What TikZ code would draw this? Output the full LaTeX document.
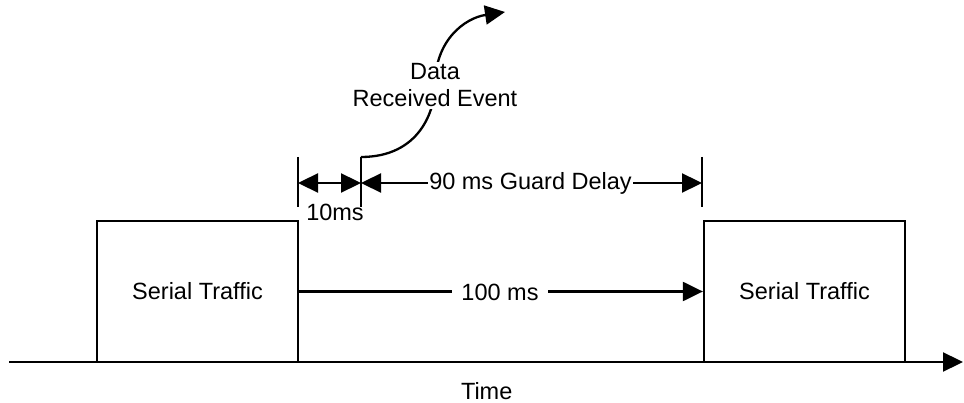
\documentclass[tikz,border=0pt]{standalone}
\usepackage{fontspec}
\setmainfont{Liberation Sans}
\usetikzlibrary{arrows.meta}
\begin{document}
\begin{tikzpicture}[x=1pt,y=-1pt,
  line width=2.3pt,
  lbl/.style={font=\fontsize{23.5}{27}\selectfont, inner sep=0pt},
  boxnode/.style={draw, rectangle, minimum width=201pt, minimum height=141pt, inner sep=0pt, font=\fontsize{23.5}{27}\selectfont},
  tip/.style={-{Triangle[length=20pt,width=19pt]}},
  dbl/.style={{Triangle[length=20pt,width=19pt]}-{Triangle[length=20pt,width=19pt]}}
]
\useasboundingbox (0,0) rectangle (964,403);
% boxes
\node[boxnode] (box1) at (197.5,291.5) {Serial Traffic};
\node[boxnode] (box2) at (804.5,291.5) {Serial Traffic};
% time axis
\coordinate (axL) at (9,362);
\coordinate (axR) at (963,362);
\draw[tip] (axL) -- (axR);
\node[lbl, anchor=base] (time) at (486.7,399) {Time};
% 100 ms
\draw[tip] (box1.east) -- (box2.west);
\node[lbl, fill=white, inner xsep=9pt, inner ysep=1pt] (l100) at (500,292) {100 ms};
% ticks
\coordinate (t1a) at (298,157); \coordinate (t1b) at (298,207);
\coordinate (t2a) at (361,157); \coordinate (t2b) at (361,207);
\coordinate (t3a) at (702,157); \coordinate (t3b) at (702,207);
\draw (t1a) -- (t1b);
\draw (t2a) -- (t2b);
\draw (t3a) -- (t3b);
\coordinate (d1) at (298,183);
\coordinate (d2) at (361,183);
\coordinate (d3) at (702,183);
\draw[dbl] (d1) -- (d2);
\draw[dbl] (d2) -- (d3);
\node[lbl, fill=white, inner xsep=1.5pt, inner ysep=1pt] (l90) at (530.5,183) {90 ms Guard Delay};
\node[lbl, anchor=base] (l10) at (335,220.5) {10ms};
% event curve
\coordinate (evtip) at (505,12);
\draw[tip] (t2a) .. controls (420,157) and (435,110) .. (435,85)
  .. controls (435,40) and (465,18) .. (evtip);
\node[lbl, fill=white, align=center, inner sep=2pt] (evt) at (435,85.5) {Data\\Received Event};
\end{tikzpicture}
\end{document}
